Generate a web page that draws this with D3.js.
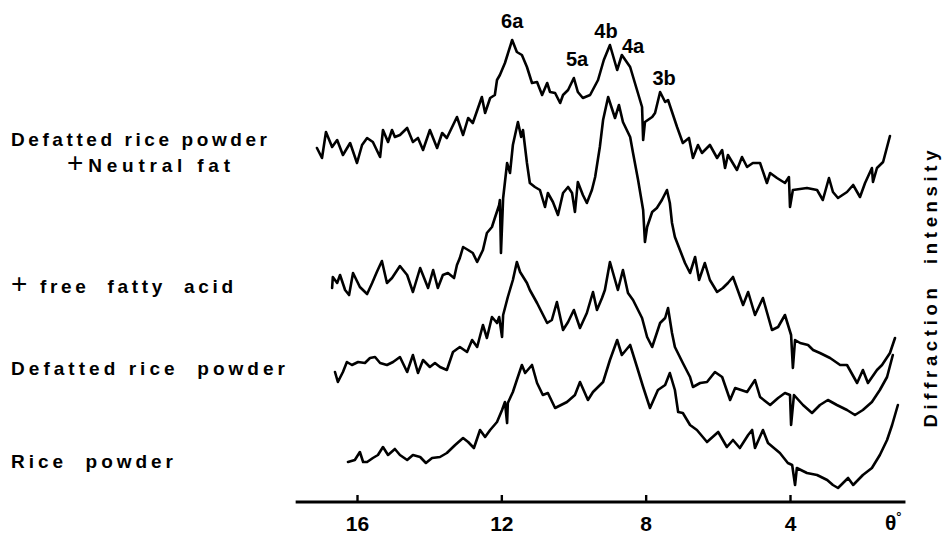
<!DOCTYPE html>
<html>
<head>
<meta charset="utf-8">
<script src="https://cdn.jsdelivr.net/npm/d3@7"></script>
<style>
  html, body { margin: 0; padding: 0; background: #fff; }
  svg { display: block; }
</style>
</head>
<body>
<svg id="chart" width="943" height="539"></svg>
<script>
// X-ray diffraction patterns of rice powders (θ in degrees, intensity in arbitrary stacked units)

const thetaTicks = [16, 12, 8, 4];
const thetaTickLabels = ["16", "12", "8", "4"];
const axisExtent = [17.7, 0.8];

// Defatted rice powder + neutral fat
const neutralFatSeries = [
  [17.11,71.0],[16.97,69.0],[16.86,74.2],[16.69,71.2],[16.55,72.6],[16.39,69.6],[16.19,72.0],[16.00,68.0],
  [15.86,71.6],[15.72,73.0],[15.56,72.2],[15.36,69.2],[15.28,74.6],[15.14,72.2],[15.03,74.6],[14.95,73.2],
  [14.81,73.6],[14.61,75.0],[14.45,72.2],[14.31,73.0],[14.17,70.6],[13.98,74.6],[13.78,71.0],[13.64,74.0],
  [13.51,73.0],[13.23,77.2],[13.06,73.6],[12.92,77.0],[12.79,76.0],[12.54,81.2],[12.45,78.0],[12.31,81.0],
  [12.18,81.6],[12.12,84.6],[12.04,85.6],[11.90,88.0],[11.70,92.6],[11.57,90.2],[11.43,89.6],[11.29,87.2],
  [11.15,84.0],[11.01,84.2],[10.87,81.6],[10.73,84.0],[10.65,82.2],[10.51,82.0],[10.37,80.0],[10.29,81.6],
  [10.15,82.6],[9.99,85.0],[9.88,82.2],[9.74,81.0],[9.54,81.6],[9.32,84.6],[9.16,88.6],[8.99,91.6],
  [8.79,86.6],[8.66,89.6],[8.43,87.2],[8.24,82.6],[8.10,79.2],[8.07,72.6],[8.02,76.2],[7.82,77.2],
  [7.74,78.0],[7.60,82.2],[7.46,80.2],[7.38,80.6],[7.13,75.2],[6.97,72.0],[6.80,73.0],[6.69,69.0],
  [6.55,71.6],[6.44,70.0],[6.22,71.6],[6.02,69.0],[5.88,70.6],[5.80,67.0],[5.72,69.6],[5.47,66.6],
  [5.33,69.2],[5.19,67.2],[5.03,68.0],[4.83,68.0],[4.64,64.0],[4.55,66.0],[4.36,65.0],[4.14,64.0],
  [4.03,65.2],[4.00,59.2],[3.92,62.6],[3.53,63.0],[3.25,62.6],[3.09,60.6],[2.92,65.0],[2.81,62.2],
  [2.67,61.0],[2.42,62.2],[2.25,63.6],[2.06,61.2],[1.92,64.0],[1.73,67.0],[1.70,64.2],[1.59,67.0],
  [1.42,68.2],[1.23,73.4]
];

// Defatted rice powder + free fatty acid
const fattyAcidSeries = [
  [16.69,43.0],[16.67,45.2],[16.55,44.0],[16.47,45.6],[16.33,42.6],[16.22,41.6],[16.11,46.0],[15.92,43.2],
  [15.72,41.8],[15.58,44.0],[15.45,46.2],[15.31,48.4],[15.17,44.0],[15.03,45.0],[14.81,47.4],[14.61,45.6],
  [14.45,42.2],[14.25,47.0],[14.03,43.0],[13.89,46.6],[13.76,43.0],[13.62,45.6],[13.48,46.0],[13.31,45.0],
  [13.23,47.6],[13.15,49.0],[13.06,51.2],[12.92,50.6],[12.79,50.0],[12.67,48.2],[12.51,50.6],[12.40,54.0],
  [12.26,55.2],[12.18,57.0],[12.06,59.6],[12.04,60.6],[12.01,50.0],[11.95,61.0],[11.84,68.0],[11.76,66.0],
  [11.68,71.6],[11.54,76.2],[11.45,73.2],[11.40,74.6],[11.29,68.0],[11.21,64.0],[11.07,63.2],[10.93,62.6],
  [10.79,59.2],[10.71,62.0],[10.57,60.2],[10.43,57.6],[10.29,62.0],[10.15,63.2],[10.04,62.0],[9.96,58.2],
  [9.88,64.2],[9.74,61.6],[9.63,60.0],[9.49,62.6],[9.40,65.2],[9.27,71.2],[9.18,76.6],[9.04,81.2],
  [8.85,77.0],[8.74,79.6],[8.63,76.2],[8.43,73.2],[8.35,70.0],[8.21,64.6],[8.07,58.6],[8.02,52.2],
  [7.96,55.2],[7.82,58.2],[7.69,59.0],[7.55,60.6],[7.41,62.6],[7.33,60.0],[7.27,56.0],[7.19,53.2],
  [7.05,50.6],[6.91,48.0],[6.77,46.0],[6.63,49.2],[6.52,44.6],[6.36,48.0],[6.22,44.6],[6.02,42.2],
  [5.86,43.0],[5.72,44.0],[5.58,45.2],[5.47,43.0],[5.30,39.6],[5.16,42.2],[4.97,37.6],[4.75,41.0],
  [4.50,34.6],[4.33,35.2],[4.14,37.6],[3.97,33.6],[3.92,27.0],[3.86,32.6],[3.72,32.0],[3.50,31.6],
  [3.36,30.6],[3.17,30.0],[2.89,29.0],[2.61,27.6],[2.42,27.6],[2.14,24.0],[1.98,26.6],[1.84,24.0],
  [1.59,26.6],[1.45,27.6],[1.23,30.0],[1.09,33.0]
];

// Defatted rice powder
const defattedSeries = [
  [16.61,26.2],[16.53,24.2],[16.39,26.2],[16.28,28.2],[16.14,27.6],[15.97,28.2],[15.78,28.0],[15.64,29.0],
  [15.50,29.2],[15.36,28.0],[15.17,27.6],[15.00,28.2],[14.81,29.2],[14.61,26.2],[14.45,29.6],[14.31,26.0],
  [14.17,28.6],[13.98,27.2],[13.84,28.0],[13.70,27.2],[13.51,26.6],[13.34,30.2],[13.15,31.2],[12.95,30.2],
  [12.81,32.6],[12.67,31.2],[12.51,35.6],[12.40,33.0],[12.26,37.2],[12.12,36.0],[12.06,37.2],[11.98,33.2],
  [11.95,37.6],[11.82,41.2],[11.68,44.6],[11.57,48.2],[11.48,46.2],[11.29,44.0],[11.21,42.6],[11.01,40.0],
  [10.87,38.0],[10.73,36.0],[10.60,36.6],[10.46,40.2],[10.29,34.6],[10.15,36.2],[9.99,38.6],[9.82,35.0],
  [9.63,38.0],[9.46,42.2],[9.35,38.6],[9.21,41.0],[9.13,42.6],[8.99,48.2],[8.77,42.6],[8.63,46.6],
  [8.49,42.0],[8.35,40.6],[8.10,37.0],[7.96,33.2],[7.82,31.2],[7.60,36.0],[7.46,37.0],[7.38,39.0],
  [7.27,34.0],[7.19,31.2],[6.97,28.0],[6.77,25.2],[6.69,23.2],[6.49,24.0],[6.30,24.2],[6.08,26.2],
  [5.88,25.2],[5.66,20.6],[5.52,23.0],[5.19,22.2],[4.97,24.6],[4.83,21.2],[4.55,19.6],[4.33,21.0],
  [4.14,22.0],[4.00,21.6],[3.97,15.6],[3.89,21.6],[3.64,19.6],[3.39,18.0],[3.17,19.6],[2.95,20.6],
  [2.70,19.6],[2.42,18.6],[2.20,17.6],[1.98,18.6],[1.73,20.2],[1.51,22.6],[1.31,25.2],[1.15,29.6]
];

// Rice powder
const riceSeries = [
  [16.25,8.2],[16.06,8.6],[15.92,10.2],[15.83,8.2],[15.72,8.2],[15.56,9.0],[15.42,9.6],[15.28,11.2],
  [15.14,9.6],[14.95,10.8],[14.81,9.6],[14.61,8.6],[14.45,9.6],[14.25,9.2],[14.09,8.0],[13.92,9.0],
  [13.70,9.2],[13.51,10.0],[13.28,11.6],[13.06,13.0],[12.92,12.2],[12.76,11.0],[12.59,14.6],[12.45,13.2],
  [12.31,14.6],[12.12,16.2],[11.98,18.6],[11.90,20.2],[11.84,16.0],[11.82,20.0],[11.68,22.2],[11.57,24.6],
  [11.43,27.6],[11.34,26.0],[11.15,27.6],[11.01,24.0],[10.85,21.6],[10.71,22.0],[10.51,19.0],[10.18,20.2],
  [9.96,21.6],[9.82,24.2],[9.60,20.6],[9.46,22.2],[9.18,24.2],[8.99,28.6],[8.79,32.6],[8.66,29.6],
  [8.43,31.6],[8.24,27.2],[8.07,23.2],[7.88,19.0],[7.66,22.6],[7.46,23.6],[7.33,26.0],[7.19,22.6],
  [7.10,18.2],[6.97,18.0],[6.77,15.6],[6.58,14.6],[6.30,12.2],[5.99,14.2],[5.75,11.2],[5.58,12.6],
  [5.39,11.0],[5.16,13.6],[5.05,14.6],[4.97,11.0],[4.75,14.6],[4.61,12.0],[4.28,10.0],[4.06,8.0],
  [3.94,7.6],[3.86,3.6],[3.81,7.0],[3.53,6.0],[3.25,5.6],[2.97,4.6],[2.81,3.6],[2.67,3.0],
  [2.39,5.0],[2.25,3.6],[1.98,5.6],[1.73,7.0],[1.51,9.6],[1.31,12.6],[1.17,15.6],[1.01,19.6]
];

// Reflection labels: name, θ, intensity level of the label baseline
const peakNames = ["6a", "5a", "4b", "4a", "3b"];
const peakTheta = [11.70, 9.90, 9.10, 8.35, 7.49];
const peakLevel = [95.0, 87.4, 93.0, 90.0, 83.6];

// Sample names shown at the left of each pattern
const sampleLabels = [
  { parts: [{ t: "Defatted rice powder" }], x: 11, y: 146, len: 256 },
  { parts: [{ t: "+", plus: true }, { t: "Neutral fat" }], x: 67, y: 172, len: 163 },
  { parts: [{ t: "+", plus: true }, { t: " free  fatty  acid" }], x: 11, y: 293, len: 222 },
  { parts: [{ t: "Defatted rice  powder" }], x: 11, y: 375, len: 274 },
  { parts: [{ t: "Rice  powder" }], x: 11, y: 468, len: 162 }
];

const series = [neutralFatSeries, fattyAcidSeries, defattedSeries, riceSeries];

const svg = d3.select("#chart");
const FONT = "'Liberation Sans', Arial, Helvetica, sans-serif";

const x = d3.scaleLinear().domain([16, 4]).range([357, 790]);
const y = d3.scaleLinear().domain([0, 100]).range([503, 3]);
const axisY = 502;

// Diffraction traces
const line = d3.line().x(d => x(d[0])).y(d => y(d[1]));
svg.append("g")
  .selectAll("path")
  .data(series)
  .join("path")
  .attr("d", line)
  .attr("fill", "none")
  .attr("stroke", "#000")
  .attr("stroke-width", 2.6)
  .attr("stroke-linejoin", "round")
  .attr("stroke-linecap", "round");

// θ axis
const axis = d3.axisBottom(x)
  .tickValues(thetaTicks)
  .tickFormat((d, i) => thetaTickLabels[i])
  .tickSizeInner(-7)
  .tickSizeOuter(0)
  .tickPadding(14);

const gAxis = svg.append("g")
  .attr("transform", `translate(0,${axisY})`)
  .call(axis);
gAxis.select(".domain").remove();
gAxis.selectAll(".tick line").attr("stroke", "#000").attr("stroke-width", 2.4);
gAxis.selectAll(".tick text")
  .attr("font-family", FONT)
  .attr("font-size", 21)
  .attr("font-weight", "bold")
  .attr("fill", "#000");

svg.append("line")
  .attr("x1", x(axisExtent[0])).attr("x2", x(axisExtent[1]))
  .attr("y1", axisY).attr("y2", axisY)
  .attr("stroke", "#000").attr("stroke-width", 3);

const thetaLabel = svg.append("text")
  .attr("x", x(1.14)).attr("y", 530)
  .attr("text-anchor", "middle")
  .attr("font-family", FONT).attr("font-size", 21).attr("font-weight", "bold");
thetaLabel.append("tspan").text("θ");
thetaLabel.append("tspan").attr("font-size", 13).attr("dy", -9).text("°");

// Reflection labels
svg.append("g")
  .selectAll("text")
  .data(peakNames)
  .join("text")
  .attr("x", (d, i) => x(peakTheta[i]))
  .attr("y", (d, i) => y(peakLevel[i]))
  .attr("text-anchor", "middle")
  .attr("font-family", FONT)
  .attr("font-size", 20)
  .attr("font-weight", "bold")
  .text(d => d);

// Sample names
const gLab = svg.append("g");
sampleLabels.forEach(l => {
  const t = gLab.append("text")
    .attr("x", l.x).attr("y", l.y)
    .attr("font-family", FONT)
    .attr("font-size", 19)
    .attr("font-weight", "bold")
    .attr("textLength", l.len)
    .attr("lengthAdjust", "spacing")
    .style("white-space", "pre");
  l.parts.forEach(p => {
    t.append("tspan")
      .attr("font-weight", p.plus ? "normal" : "bold")
      .attr("font-size", p.plus ? 28 : 19)
      .text(p.t);
  });
});

// Vertical axis title
svg.append("text")
  .attr("transform", "translate(937,289) rotate(-90)")
  .attr("text-anchor", "middle")
  .attr("font-family", FONT)
  .attr("font-size", 18.5)
  .attr("font-weight", "bold")
  .attr("textLength", 277)
  .attr("lengthAdjust", "spacing")
  .style("white-space", "pre")
  .text("Diffraction  intensity");
</script>
</body>
</html>
